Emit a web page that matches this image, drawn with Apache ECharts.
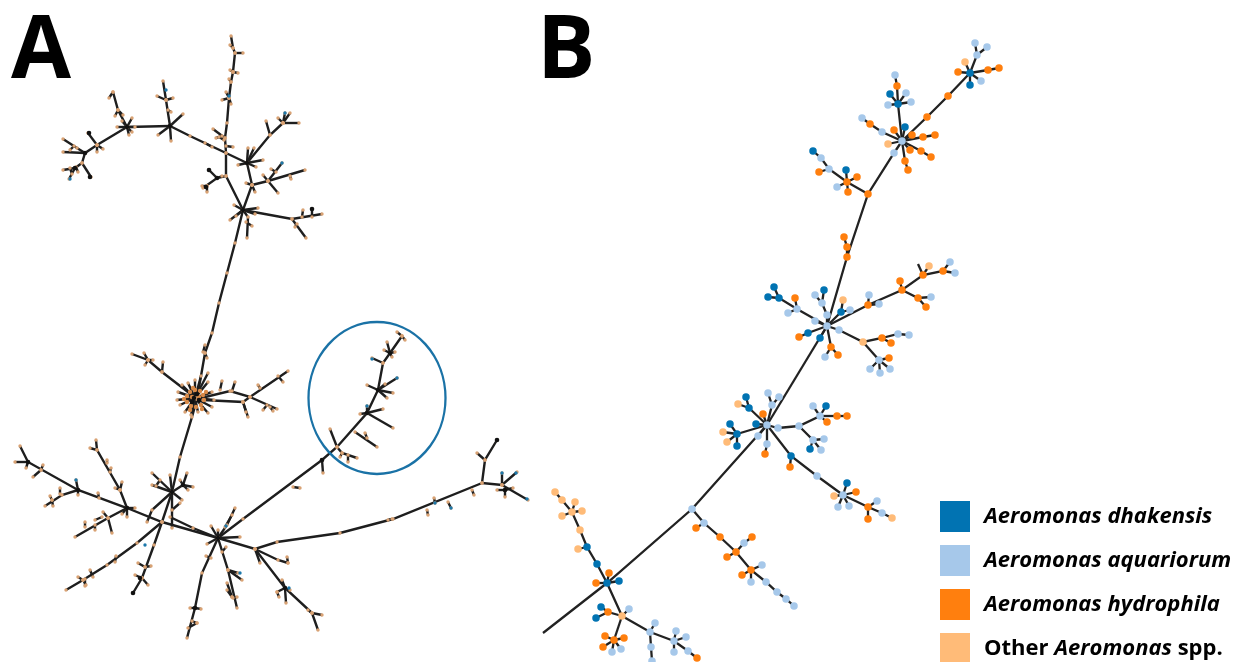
<!DOCTYPE html>
<html><head><meta charset="utf-8">
<script src="https://cdn.jsdelivr.net/npm/echarts@6/dist/echarts.min.js"></script>
<style>html,body{margin:0;padding:0;background:#fff}#c{width:1236px;height:662px;filter:blur(0.55px)}</style>
</head><body><div id="c"></div>
<script>
const speciesNames=['Aeromonas dhakensis','Aeromonas aquariorum','Aeromonas hydrophila','Other Aeromonas spp.'];
const speciesColors=['#0173b2','#a6c8ea','#ff7f0e','#ffbb78'];
const panelLabels=['A','B'];
// Panel A tree
const branchesA=[
[[231,36],[233,48],[235,53],[233,72],[231,82],[229,98],[227,123],[225,138],[226,153],[226,176],[243,210]],
[[235,53],[243,53]],[[233,72],[238,73]],[[233,72],[230,70]],[[231,82],[229,79]],[[229,98],[222,100]],[[229,98],[226,92]],[[229,98],[231,104]],
[[225,138],[213,129]],[[222,136],[216,138]],[[226,146],[233,147]],[[224,140],[219,137]],[[233,48],[230,45]],
[[170,126],[190,136],[226,153],[247,163],[252,185],[243,210]],[[205,143],[212,147]],
[[247,163],[248,148]],[[247,163],[263,160]],[[247,163],[238,165]],[[247,163],[270,135],[283,123]],[[283,123],[278,118]],[[283,123],[290,113]],[[283,123],[285,113]],[[283,123],[299,123]],[[270,135],[266,121]],[[247,163],[254,148]],[[247,163],[256,167]],
[[252,185],[268,181],[305,170]],[[268,181],[282,163]],[[268,181],[278,193]],[[268,181],[263,175]],[[252,185],[246,183]],[[252,185],[255,192]],[[290,176],[291,179]],[[276,172],[271,169]],
[[226,176],[217,178],[203,188]],[[217,178],[209,170]],[[207,186],[202,186]],[[207,186],[207,192]],[[217,178],[222,176]],
[[243,210],[258,208]],[[243,210],[230,220]],[[243,210],[248,217],[247,238]],[[243,210],[292,219],[322,214]],[[292,219],[306,238]],[[302,217],[303,210]],[[312,217],[312,209]],[[297,224],[295,227]],[[243,210],[234,205]],[[243,210],[255,214]],[[243,210],[236,216]],[[246,222],[252,226]],
[[170,126],[127,127]],[[127,127],[118,110],[113,92]],[[113,92],[109,98]],[[118,110],[115,116]],[[118,110],[123,115]],
[[127,127],[97,145],[85,153],[77,148],[63,139]],[[85,153],[63,152]],[[85,153],[82,163],[75,168],[63,170]],[[75,168],[69,179]],[[82,163],[91,177]],[[97,145],[88,133]],[[97,145],[103,149]],[[97,145],[97,152]],[[70,150],[74,146]],[[70,168],[72,174]],[[76,167],[78,172]],
[[127,127],[132,118]],[[127,127],[135,127]],[[127,127],[129,135]],[[127,127],[117,127]],[[127,127],[132,132]],[[127,127],[122,121]],
[[170,126],[166,100],[163,81]],[[166,100],[157,96]],[[166,100],[173,98]],[[170,126],[183,114]],[[170,126],[158,135]],[[170,126],[171,141]],[[168,110],[171,112]],
[[243,210],[235,243],[227,273],[219,303],[212,333],[205,353],[197,399],[192,417],[180,457],[172,492],[162,522],[154,545],[142,578],[133,593]],
[[205,353],[207,358]],[[203,352],[205,345]],[[145,567],[138,563]],[[145,567],[151,566]],[[142,578],[135,575]],[[142,578],[148,585]],
[[197,399],[162,372],[148,360],[132,354]],[[148,360],[144,353]],[[148,360],[153,360]],[[148,360],[145,365]],[[162,372],[163,362]],
[[197,399],[230,391],[250,397],[288,371]],[[250,397],[277,409]],[[203,400],[243,402],[248,417]],[[243,402],[250,397]],[[220,390],[222,381]],[[232,391],[235,382]],[[260,388],[258,385]],[[267,405],[263,410]],[[278,376],[283,382]],[[270,407],[273,411]],[[243,402],[246,412]],
[[195,398],[195,380]],[[195,398],[188,383]],[[195,398],[182,385]],[[195,398],[177,400]],[[195,398],[180,405]],[[195,398],[185,412]],[[195,398],[198,412]],[[195,398],[208,413]],[[195,398],[208,382]],[[195,398],[208,373]],[[195,398],[201,376]],[[195,398],[212,392]],[[195,398],[212,407]],[[195,398],[178,392]],[[195,398],[191,415]],[[195,398],[214,400]],
[[218,538],[255,549],[277,542],[340,533],[393,519],[482,483],[485,460],[497,440]],[[485,460],[477,453]],[[482,483],[502,485],[517,472]],[[502,485],[528,500]],[[502,485],[502,473]],[[505,490],[497,490]],[[505,490],[513,488]],[[505,490],[505,497]],
[[427,510],[428,515]],[[435,503],[434,498]],[[448,502],[451,508]],[[472,490],[474,495]],[[392,519],[388,520]],
[[218,538],[243,519],[322,460],[337,447],[367,413],[378,390],[383,363],[402,336]],
[[322,460],[323,473]],[[293,487],[300,488]],[[337,447],[330,429]],[[337,447],[342,453],[357,458]],[[342,453],[340,457]],[[348,455],[348,462]],[[355,432],[377,447]],[[367,438],[365,433]],
[[367,413],[393,428]],[[367,413],[360,414]],[[367,413],[383,409]],[[367,413],[367,406]],[[378,390],[367,385]],[[378,390],[397,378]],[[378,390],[393,393]],[[378,390],[387,398]],[[378,390],[385,384]],[[383,363],[372,358]],[[390,353],[387,342]],[[390,353],[395,352]],[[390,353],[392,357]],[[390,353],[384,350]],[[402,336],[397,332]],[[402,336],[405,340]],
[[218,538],[162,522],[127,508],[78,490],[28,462],[20,446]],[[28,462],[15,462]],[[28,462],[26,468]],[[41,470],[33,477]],[[41,470],[43,465]],
[[78,490],[62,495],[45,506]],[[78,490],[76,480]],[[78,490],[78,495]],[[52,500],[50,496]],[[60,494],[60,488]],[[52,500],[53,506]],[[99,498],[98,493]],
[[127,508],[108,518],[75,537]],[[108,518],[112,533]],[[95,520],[102,517]],[[85,527],[85,522]],[[95,525],[95,530]],[[108,518],[103,512]],
[[127,508],[120,490],[97,450],[90,448]],[[97,450],[96,440]],[[107,460],[107,463]],[[110,472],[111,468]],[[120,490],[122,482]],[[120,490],[115,488]],[[127,508],[127,517]],[[127,508],[135,508]],[[127,508],[122,514]],
[[172,492],[152,473]],[[172,492],[183,485]],[[183,485],[187,473]],[[183,485],[193,487]],[[183,485],[180,480]],[[183,485],[188,490]],[[172,492],[152,485]],[[172,492],[170,475]],[[172,492],[182,500]],[[172,492],[152,510],[147,522]],[[172,492],[172,528]],[[170,517],[193,528],[218,538]],[[172,510],[180,503]],[[160,480],[156,486]],
[[162,522],[137,543],[107,565],[83,580],[66,590]],[[115,562],[116,556]],[[93,577],[90,570]],[[85,586],[85,579]],[[78,577],[83,580]],[[83,580],[86,585]],
[[218,538],[227,525],[235,508]],[[218,538],[211,526]],[[218,538],[218,530]],[[218,538],[240,537]],[[218,538],[207,544]],[[225,527],[232,515]],
[[218,538],[202,573],[195,608],[187,638]],[[195,608],[201,609]],[[195,608],[190,608]],[[197,623],[188,628]],[[192,621],[197,623]],[[211,558],[206,556]],
[[218,538],[228,570],[237,608]],[[228,570],[242,580]],[[228,570],[238,573]],[[227,583],[232,597]],[[232,597],[227,590]],[[233,598],[237,597]],[[222,552],[226,547]],
[[255,549],[278,560],[288,563]],[[255,549],[260,563]],[[288,563],[287,557]],
[[255,549],[285,588],[312,613],[318,630]],[[312,613],[322,615]],[[285,588],[286,603]],[[285,588],[277,592]],[[285,588],[290,590]],[[285,588],[282,580]],[[277,592],[279,597]],[[312,613],[308,610]]
];
const ringA=[[195,390],[200,391],[203,395],[204,400],[201,405],[196,407],[191,406],[187,402],[187,396],[190,392],[193,388],[206,392],[184,399],[190,410],[202,409],[192,397],[199,397]];
const blobsA=[[194,398],[199,400],[192,402],[197,394],[218,538],[172,492],[127,508],[78,490],[28,462],[183,485],[140,578],[133,593],[195,608],[285,588],[243,210],[127,127],[170,126],[247,163],[85,153],[89,133],[75,168],[90,177],[367,413],[378,390],[390,353],[322,460],[209,170],[206,187],[312,209],[217,178],[505,490],[497,440]];
const blueA=[[229,96],[76,480],[145,545],[226,526],[240,573],[289,588],[282,163],[285,113],[502,473],[516,473],[527,499],[435,503],[451,508],[367,406],[397,378],[372,359],[166,90],[70,179]];
// Panel B tree
const branchesB=[
[[970,73],[977,55],[975,43]],[[977,55],[987,47]],[[970,73],[965,62]],[[970,73],[958,72]],[[970,73],[988,70],[999,68]],[[970,73],[981,81]],[[970,73],[970,85]],
[[970,73],[948,96],[927,117],[902,141]],
[[902,141],[898,104],[897,86],[895,75]],[[898,104],[890,94]],[[898,104],[906,93]],[[898,104],[911,102]],[[898,104],[888,105]],
[[902,141],[905,127]],[[902,141],[894,130]],[[902,141],[912,135]],[[902,141],[923,137],[935,135]],[[902,141],[882,132],[870,124],[862,118]],[[902,141],[888,144]],[[902,141],[910,150]],[[902,141],[921,151],[931,157]],[[902,141],[905,161],[908,170]],
[[902,141],[894,153],[868,194],[847,257],[827,326]],
[[868,194],[847,182]],[[847,182],[846,170]],[[847,182],[857,177]],[[847,182],[848,192]],[[847,182],[837,187]],[[847,182],[829,169],[821,158],[813,151]],[[829,169],[819,172]],
[[847,257],[847,247],[844,237]],
[[827,326],[827,315],[822,303],[815,295]],[[822,303],[824,290]],[[827,326],[841,312],[843,300]],[[841,312],[850,310]],
[[827,326],[868,305],[902,290],[923,275],[943,271],[950,262]],[[868,305],[869,295]],[[868,305],[879,304]],[[902,290],[900,281]],[[902,290],[918,298],[931,297]],[[918,298],[926,307]],[[923,275],[918,264]],[[923,275],[929,266]],[[943,271],[955,273]],
[[827,326],[815,321]],[[827,326],[797,309],[779,298],[774,287]],[[797,309],[795,298]],[[797,309],[788,313]],[[779,298],[768,297]],
[[827,326],[820,338]],[[827,326],[808,333],[799,337]],[[827,326],[831,347]],[[831,347],[825,357]],[[831,347],[838,355]],
[[827,326],[839,330],[863,342],[882,338],[898,334],[909,335]],[[882,338],[891,343]],[[863,342],[879,360]],[[879,360],[889,358]],[[879,360],[870,369]],[[879,360],[880,373]],[[879,360],[890,369]],
[[827,326],[767,425]],
[[767,425],[772,405],[768,393]],[[772,405],[779,397]],[[767,425],[763,414]],[[767,425],[756,424]],[[767,425],[749,408],[746,397]],[[749,408],[738,404]],
[[767,425],[737,434],[730,424]],[[737,434],[723,432]],[[737,434],[727,442]],[[737,434],[737,446]],
[[767,425],[758,436]],[[767,425],[767,444],[765,454]],
[[767,425],[778,428],[799,426],[820,416],[813,406]],[[820,416],[826,406]],[[820,416],[827,422]],[[820,416],[837,416],[847,416]],
[[799,426],[813,440],[824,439]],[[813,440],[810,449]],[[813,440],[821,450]],
[[767,425],[791,456],[817,476],[843,495]],[[791,456],[790,467]],[[843,495],[847,483]],[[843,495],[856,492]],[[843,495],[834,496]],[[843,495],[838,507]],[[843,495],[849,506]],[[843,495],[868,507],[882,513],[892,518]],[[868,507],[877,501]],[[868,507],[868,519]],
[[767,425],[692,509],[607,583],[543,633]],
[[692,509],[704,523],[720,537],[736,552],[751,570],[766,582],[777,592],[786,599],[794,606]],[[704,523],[696,528]],[[736,552],[744,543],[752,537]],[[736,552],[727,557]],[[751,570],[762,565]],[[751,570],[742,575]],[[751,570],[751,582]],
[[607,583],[609,573]],[[607,583],[619,581]],[[607,583],[596,583]],
[[607,583],[597,564],[587,547],[580,530],[572,512],[562,500],[555,492]],[[587,547],[578,549]],[[572,512],[575,502]],[[572,512],[582,511]],[[572,512],[562,516]],
[[607,583],[622,616],[629,609]],[[622,616],[608,612],[601,607]],[[608,612],[596,618]],
[[622,616],[614,640]],[[614,640],[605,636]],[[614,640],[624,638]],[[614,640],[603,647]],[[614,640],[612,652]],[[614,640],[621,649]],
[[622,616],[650,632],[655,623]],[[650,632],[651,647],[652,661]],[[650,632],[674,641],[676,631]],[[674,641],[686,637]],[[674,641],[674,652]],[[674,641],[688,651],[697,658]]
];
const dhakensis=[[970,73],[970,85],[898,104],[890,94],[905,127],[846,170],[813,151],[824,290],[841,312],[779,298],[774,287],[768,297],[820,338],[808,333],[756,424],[749,408],[746,397],[737,434],[730,424],[737,446],[826,406],[810,449],[791,456],[847,483],[607,583],[619,581],[597,564],[587,547],[601,607],[596,618]];
const aquariorum=[[975,43],[987,47],[977,55],[981,81],[895,75],[906,93],[911,102],[888,105],[902,141],[882,132],[862,118],[894,153],[837,187],[829,169],[821,158],[827,326],[827,315],[822,303],[815,295],[850,310],[869,295],[879,304],[931,297],[950,262],[955,273],[815,321],[797,309],[788,313],[825,357],[839,330],[898,334],[909,335],[870,369],[880,373],[890,369],[879,360],[767,425],[768,393],[772,405],[779,397],[758,436],[767,444],[778,428],[799,426],[820,416],[813,406],[813,440],[824,439],[821,450],[817,476],[843,495],[838,507],[849,506],[877,501],[882,513],[692,509],[704,523],[744,543],[762,565],[751,582],[766,582],[777,592],[786,599],[794,606],[629,609],[612,652],[621,649],[650,632],[655,623],[651,647],[652,661],[674,641],[676,631],[686,637],[674,652],[688,651]];
const hydrophila=[[958,72],[988,70],[999,68],[948,96],[927,117],[897,86],[894,130],[912,135],[923,137],[935,135],[870,124],[910,150],[921,151],[931,157],[905,161],[908,170],[868,194],[847,182],[857,177],[848,192],[819,172],[847,257],[847,247],[844,237],[868,305],[902,290],[900,281],[918,298],[926,307],[923,275],[943,271],[795,298],[799,337],[831,347],[838,355],[882,338],[891,343],[889,358],[763,414],[827,422],[837,416],[847,416],[790,467],[856,492],[868,507],[868,519],[696,528],[720,537],[736,552],[752,537],[727,557],[751,570],[742,575],[697,658],[609,573],[596,583],[608,612],[614,640],[605,636],[624,638],[603,647],[765,454]];
const others=[[965,62],[888,144],[843,300],[929,266],[863,342],[738,404],[723,432],[727,442],[834,496],[892,518],[580,530],[578,549],[572,512],[575,502],[582,511],[562,516],[562,500],[555,492],[622,616]];
const speciesNodes=[dhakensis,aquariorum,hydrophila,others];
const highlightEllipse=[[377,398]];

const toLines=b=>b.map(p=>({coords:p}));
const verts=[];branchesA.forEach(p=>p.forEach(v=>verts.push(v)));
const font='"Open Sans"';
const series=[
 {type:'lines',coordinateSystem:'cartesian2d',polyline:true,silent:true,z:2,data:toLines(branchesA),lineStyle:{color:'#1e1e1e',width:2.4,opacity:1}},
 {type:'scatter',name:'A nodes',data:verts,symbolSize:3.4,z:3,silent:true,itemStyle:{color:'#d9a273',opacity:1}},
 {type:'scatter',name:'A ring',data:ringA,symbolSize:4.4,z:3,silent:true,itemStyle:{color:'#d98a48',opacity:1}},
 {type:'scatter',name:'A dark',data:blobsA,symbolSize:4.6,z:4,silent:true,itemStyle:{color:'#111',opacity:1}},
 {type:'scatter',name:'A blue',data:blueA,symbolSize:3.4,z:4,silent:true,itemStyle:{color:'#1c78ab',opacity:1}},
 {type:'lines',coordinateSystem:'cartesian2d',polyline:true,silent:true,z:2,data:toLines(branchesB),lineStyle:{color:'#222',width:2.3,opacity:1}},
 {type:'scatter',name:'highlight',data:highlightEllipse,symbol:'circle',symbolSize:[137,152],z:5,silent:true,itemStyle:{color:'rgba(0,0,0,0)',borderColor:'#1a72a6',borderWidth:2.4,opacity:1}}
];
speciesNames.forEach((n,i)=>series.push({type:'scatter',name:n,data:speciesNodes[i],symbolSize:7.5,z:3,itemStyle:{color:speciesColors[i],opacity:1}}));
const chart=echarts.init(document.getElementById('c'),null,{renderer:'canvas'});
chart.setOption({
 animation:false,backgroundColor:'#fff',
 grid:{left:0,right:0,top:0,bottom:0},
 xAxis:{type:'value',min:0,max:1236,show:false},
 yAxis:{type:'value',min:0,max:662,inverse:true,show:false},
 tooltip:{show:false},
 title:[
  {text:panelLabels[0],left:11,top:10,textStyle:{fontFamily:font,fontWeight:'bold',fontSize:87,color:'#000'},padding:0},
  {text:panelLabels[1],left:537,top:10,textStyle:{fontFamily:font,fontWeight:'bold',fontSize:87,color:'#000'},padding:0}
 ],
 legend:{
  data:speciesNames,orient:'vertical',left:940,top:501,height:175,padding:0,itemWidth:30,itemHeight:31,itemGap:13,icon:'rect',selectedMode:false,
  formatter:n=>{
   if(n.indexOf('Other')===0){const m=n.split(' ');return `{b|${m[0]} }{i|${m[1]}}{b| ${m[2]}}`;}
   return `{i|${n}}`;
  },
  textStyle:{color:'#000',rich:{
   i:{fontFamily:font,fontStyle:'italic',fontWeight:'bold',fontSize:22,color:'#000'},
   b:{fontFamily:font,fontWeight:'bold',fontSize:22,color:'#000'}
  },padding:[0,0,0,9]}
 },
 series
});
</script></body></html>
